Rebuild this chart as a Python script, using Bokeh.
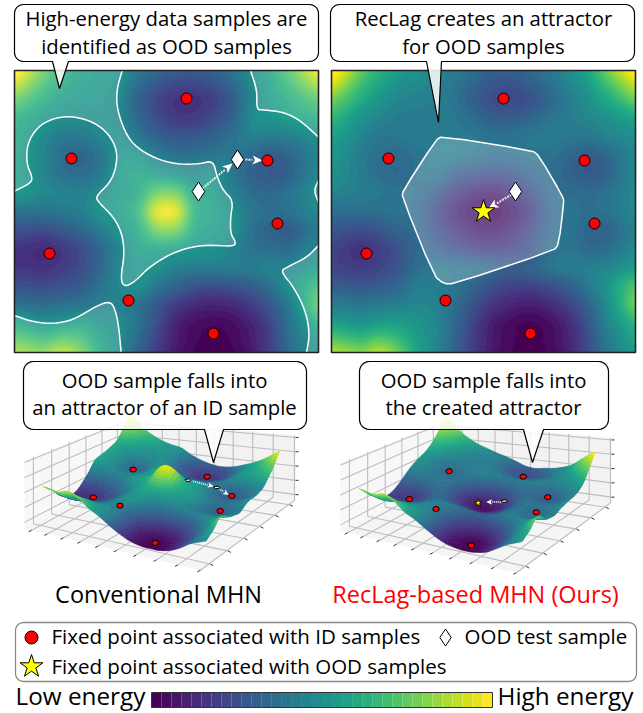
import numpy as np
from bokeh.plotting import figure
from bokeh.models import Range1d, LinearColorMapper, ColumnDataSource
from bokeh.palettes import Viridis256
from bokeh.core.properties import value
from bokeh.embed import file_html
from bokeh.resources import INLINE

# ---------- data ----------
energy_conventional = [
 [.88,.72,.62,.56,.53,.50,.38,.30,.25,.24,.28,.36,.48,.58,.70,.84],
 [.72,.62,.56,.53,.52,.47,.32,.22,.16,.15,.20,.30,.46,.55,.62,.70],
 [.60,.54,.50,.48,.50,.46,.34,.24,.18,.18,.24,.33,.47,.52,.56,.60],
 [.56,.48,.42,.42,.46,.50,.40,.32,.28,.28,.32,.38,.44,.42,.44,.48],
 [.54,.46,.36,.33,.40,.52,.52,.43,.38,.38,.40,.40,.34,.30,.33,.42],
 [.54,.46,.38,.36,.42,.55,.58,.56,.52,.48,.50,.40,.32,.28,.32,.42],
 [.52,.47,.45,.44,.48,.54,.60,.76,.76,.58,.55,.44,.36,.34,.38,.46],
 [.38,.38,.40,.43,.52,.56,.66,.94,.94,.64,.57,.50,.40,.36,.38,.44],
 [.25,.24,.28,.34,.42,.52,.60,.78,.78,.60,.55,.50,.38,.32,.30,.38],
 [.15,.13,.17,.24,.34,.46,.56,.58,.56,.52,.50,.45,.38,.36,.36,.44],
 [.16,.15,.18,.24,.34,.47,.52,.50,.44,.42,.42,.42,.42,.44,.46,.52],
 [.25,.24,.26,.30,.38,.46,.50,.40,.32,.26,.24,.26,.30,.38,.50,.62],
 [.38,.36,.38,.40,.44,.44,.38,.28,.18,.12,.10,.12,.18,.28,.42,.64],
 [.58,.52,.55,.58,.52,.48,.38,.24,.10,.04,.02,.04,.10,.22,.38,.54],
 [.76,.72,.78,.72,.58,.48,.34,.20,.08,.02,.00,.02,.08,.20,.36,.48],
]
energy_reclag = [
 [.90,.72,.60,.52,.48,.44,.40,.34,.28,.27,.32,.38,.46,.56,.72,.88],
 [.74,.62,.52,.46,.44,.42,.38,.30,.24,.22,.26,.34,.42,.50,.60,.72],
 [.62,.52,.46,.42,.42,.42,.40,.35,.30,.30,.33,.38,.42,.46,.50,.56],
 [.54,.46,.40,.40,.42,.42,.42,.40,.38,.38,.40,.42,.40,.40,.44,.48],
 [.50,.42,.37,.35,.38,.42,.42,.38,.36,.36,.38,.38,.34,.30,.34,.42],
 [.48,.42,.36,.34,.37,.38,.30,.26,.24,.26,.32,.36,.32,.28,.32,.42],
 [.44,.42,.40,.38,.36,.28,.18,.12,.10,.15,.24,.34,.36,.35,.38,.44],
 [.36,.36,.36,.38,.34,.22,.12,.05,.03,.08,.18,.32,.38,.36,.38,.44],
 [.26,.24,.27,.32,.34,.25,.16,.10,.08,.13,.22,.33,.38,.33,.32,.40],
 [.19,.15,.19,.26,.34,.30,.24,.20,.18,.20,.26,.36,.39,.35,.36,.44],
 [.20,.18,.21,.27,.36,.40,.38,.36,.32,.30,.32,.38,.42,.43,.46,.52],
 [.30,.28,.30,.34,.42,.42,.38,.32,.24,.20,.20,.24,.30,.40,.52,.66],
 [.42,.40,.42,.44,.46,.44,.36,.25,.16,.10,.08,.12,.20,.32,.48,.68],
 [.56,.52,.56,.56,.52,.46,.34,.20,.08,.03,.01,.04,.12,.26,.44,.58],
 [.76,.72,.78,.70,.56,.46,.32,.18,.07,.02,.00,.03,.10,.24,.40,.52],
]
# fixed points, in the pixel frame of the left map, and where they appear on the left 3-D surface
fixed_x = [71, 186, 267, 277, 49, 128, 213]
fixed_y = [158, 98, 160, 223, 253, 300, 333]
fixed_e1 = [.33, .16, .27, .30, .13, .44, .01]
fixed_e2 = [.35, .22, .30, .33, .15, .42, .01]
surface_x = [134, 208, 234, 216, 88, 114, 155]
surface_y = [468, 471, 495, 513, 495, 503, 543]
ood_x, ood_y = 198, 191
moved_x, moved_y = 237, 159
star_x, star_y = 166, 211
ood_e1, moved_e1 = .62, .38
ood_e2, star_e2 = .18, .16

callout_texts = [
    ("High-energy data samples are", 166, 17), ("identified as OOD samples", 166, 45),
    ("RecLag creates an attractor", 483, 17), ("for OOD samples", 483, 45),
    ("OOD sample falls into", 164, 379), ("an attractor of an ID sample", 164, 406),
    ("OOD sample falls into", 483, 379), ("the created attractor", 483, 406),
]

# curves of the left map (3x-zoom picture units)
curve_main = [(42,572),(90,548),(96,530),(78,490),(80,430),(110,380),(160,352),(220,347),(280,365),(325,400),(350,450),(347,500),(330,545),(285,588),(295,606),(340,650),(365,700),(372,760),(360,835),(372,860),(405,842),(440,805),(500,765),(560,742),(620,733),(700,738),(706,725),(690,700),(690,650),(698,600),(668,570),(650,530),(638,480),(600,490),(540,492),(480,480),(420,450),(380,410),(350,330),(348,270),(365,210)]
curve_tr = [(750,210),(770,270),(768,328),(790,328),(850,335),(900,360),(954,410)]
curve_r = [(954,540),(940,570),(954,605)]
curve_br = [(954,735),(920,770),(860,800),(840,812),(880,860),(915,930),(928,1000),(918,1057)]
curve_bl = [(42,945),(100,965),(160,970),(220,958),(290,915),(330,902),(345,930),(355,980),(362,1057)]
hexagon = [(365,407),(635,450),(655,465),(728,590),(730,605),(715,730),(700,750),(400,850),(370,850),(340,825),(245,590),(248,570),(345,420)]

# ---------- canvas ----------
p = figure(width=643, height=713, output_backend="svg", toolbar_location=None,
           x_range=Range1d(0, 643), y_range=Range1d(713, 0), min_border=0)
p.axis.visible = False
p.grid.visible = False
p.outline_line_color = None
p.background_fill_color = "white"
mapper = LinearColorMapper(palette=Viridis256, low=0, high=1)

PX0, PW, PY0, PH = 14, 304, 70, 282
OFF2 = 317

def cubic(a, t, axis):
    # display smoothing of a read grid (like imshow's bicubic)
    a = np.moveaxis(a, axis, 0)
    a = np.concatenate([3*a[:1]-2*a[1:2], 2*a[:1]-a[1:2], a, 2*a[-1:]-a[-2:-1], 3*a[-1:]-2*a[-2:-1]])
    n = a.shape[0] - 4
    i = np.clip(np.floor(t).astype(int), -1, n-1)
    f = t - i
    shape = (-1,) + (1,)*(a.ndim-1)
    f = f.reshape(shape)
    p0, p1, p2, p3 = a[i+1], a[i+2], a[i+3], a[i+4]
    r = .5*(2*p1 + (p2-p0)*f + (2*p0-5*p1+4*p2-p3)*f**2 + (3*p1-p0-3*p2+p3)*f**3)
    return np.moveaxis(r, 0, axis)

def smooth(grid, nx, ny):
    g = np.array(grid, dtype=float)
    ty = np.linspace(0, 1, ny)*g.shape[0] - .5
    tx = np.linspace(0, 1, nx)*g.shape[1] - .5
    return np.clip(cubic(cubic(g, ty, 0), tx, 1), 0, 1)

def rounded_curve(c, closed=False, rounds=2):
    # corner cutting so that a hand-read curve is drawn without kinks
    a = np.array(c, dtype=float)
    for _ in range(rounds):
        if closed:
            b = np.roll(a, -1, axis=0)
            a = np.column_stack([.75*a + .25*b, .25*a + .75*b]).reshape(-1, 2)
        else:
            l, r = a[:-1], a[1:]
            mid = np.column_stack([.75*l + .25*r, .25*l + .75*r]).reshape(-1, 2)
            a = np.vstack([a[:1], mid, a[-1:]])
    return a

# ---------- heat maps ----------
for grid, x0 in ((energy_conventional, PX0), (energy_reclag, PX0 + OFF2)):
    fine = np.round(smooth(grid, PW, PH)*34)/34
    p.image(image=[fine], x=x0, y=PY0, dw=PW, dh=PH, color_mapper=mapper)

def zp(a, dx=0.0):
    a = np.array(a, dtype=float) / 3
    return list(a[:, 0] + dx), list(a[:, 1])

main_fine = rounded_curve(curve_main)
x, y = zp(np.vstack([main_fine, [(42, 210)]]))
p.patch(x, y, fill_color="white", fill_alpha=.16, line_color=None)
for c, close in ((curve_tr, (954, 210)), (curve_br, (954, 1057)), (curve_bl, (42, 1057)), (curve_r, (954, 570))):
    x, y = zp(np.vstack([rounded_curve(c), [close]]))
    p.patch(x, y, fill_color="white", fill_alpha=.16, line_color=None)
for c in (curve_main, curve_tr, curve_r, curve_br, curve_bl):
    x, y = zp(rounded_curve(c))
    p.line(x, y, line_color="white", line_width=1.5, line_join="round")
hx = rounded_curve(hexagon, closed=True, rounds=1)
x, y = zp(hx, 320)
p.patch(x, y, fill_color="white", fill_alpha=.22, line_color="white", line_width=1.5, line_join="round")

for x0 in (PX0, PX0 + OFF2):
    p.quad(left=x0, right=x0 + PW, top=PY0, bottom=PY0 + PH, fill_color=None, line_color="#222222", line_width=1.6)

# ---------- 3-D boxes ----------
box_B, box_R, box_L, box_F = (123, 475), (295, 500), (24, 528), (201, 570)
wall_h = {"B": 55, "R": 65, "L": 68, "F": 78}
Z_SCALE = 42

def homography(pts):
    src = [(0, 0), (1, 0), (0, 1), (1, 1)]
    A, b = [], []
    for (u, v), (X, Y) in zip(src, pts):
        A.append([u, v, 1, 0, 0, 0, -u * X, -v * X]); b.append(X)
        A.append([0, 0, 0, u, v, 1, -u * Y, -v * Y]); b.append(Y)
    s = np.linalg.solve(np.array(A, float), np.array(b, float))
    return np.append(s, 1).reshape(3, 3)

HM = homography([box_B, box_R, box_L, box_F])

def base(u, v):
    w = HM @ np.array([u, v, 1.0])
    return w[0] / w[2], w[1] / w[2]

def wallh(u, v):
    return ((1-u)*(1-v)*wall_h["B"] + u*(1-v)*wall_h["R"] + (1-u)*v*wall_h["L"] + u*v*wall_h["F"])

def uv_of(px, py):
    return (px-PX0)/PW, (py-PY0)/PH

# camera fitted to where the fixed points and the surface corners appear in the picture
calib = [(*uv_of(a, b), e, X, Y) for a, b, e, X, Y in zip(fixed_x, fixed_y, fixed_e1, surface_x, surface_y)]
calib += [(0, 0, .95, 130, 419), (1, 0, .92, 279, 457), (0, 1, .78, 45, 492), (.655, 1, .0, 157, 552), (1, 1, .48, 203, 537)]
A, b = [], []
for u, v, z, X, Y in calib:
    Y0 = Y + Z_SCALE*z
    A.append([u, v, 1, 0, 0, 0, -u*X, -v*X]); b.append(X)
    A.append([0, 0, 0, u, v, 1, -u*Y0, -v*Y0]); b.append(Y0)
SURF = np.append(np.linalg.lstsq(np.array(A, float), np.array(b, float), rcond=None)[0], 1).reshape(3, 3)

def proj(u, v, z, dx=0, dy=0):
    w = SURF @ np.array([u, v, 1.0])
    return w[0]/w[2] + dx, w[1]/w[2] + dy - Z_SCALE*z

def draw_box(dx, dy):
    def bz(u, v, t):
        X, Y = base(u, v)
        return X + dx, Y + dy - wallh(u, v)*t
    lw = [bz(0,1,0), bz(0,0,0), bz(0,0,1), bz(0,1,1)]
    rw = [bz(0,0,0), bz(1,0,0), bz(1,0,1), bz(0,0,1)]
    fl = [bz(0,0,0), bz(1,0,0), bz(1,1,0), bz(0,1,0)]
    for poly, col in ((lw, "#f8f8f8"), (rw, "#f2f2f2"), (fl, "#f5f5f5")):
        p.patch([q[0] for q in poly], [q[1] for q in poly], fill_color=col, line_color=None)
    xs, ys = [], []
    def seg(a, b):
        xs.append([a[0], b[0]]); ys.append([a[1], b[1]])
    for t in (.09, .31, .53, .75, .97):
        seg(bz(0,1,t), bz(0,0,t)); seg(bz(0,0,t), bz(1,0,t))
    for a in np.arange(.05, 1, .105):
        seg(bz(a,0,0), bz(a,0,1)); seg(bz(a,0,0), bz(a,1,0))
    for b in np.arange(.07, 1, .17):
        seg(bz(0,b,0), bz(0,b,1)); seg(bz(0,b,0), bz(1,b,0))
    p.multi_line(xs, ys, line_color="#bdbdbd", line_width=1.1)
    xs, ys = [], []
    for a in np.arange(.05, 1, .105):
        q = bz(a,1,0); seg(q, (q[0]-3, q[1]+1.5))
    for b in np.arange(.07, 1, .17):
        q = bz(1,b,0); seg(q, (q[0]+3, q[1]+1.5))
    for t in (.09, .31, .53, .75, .97):
        q = bz(1,0,t); seg(q, (q[0]+3, q[1]))
    p.multi_line(xs, ys, line_color="#333333", line_width=1)

def draw_surface(grid, dx, dy):
    nx, ny = 61, 57
    g = smooth(grid, nx, ny)
    cells = sorted(((i, j) for i in range(nx-1) for j in range(ny-1)), key=lambda c: c[0]/(nx-1) + c[1]/(ny-1))
    xs, ys, vals = [], [], []
    for i, j in cells:
        corners = [(i, j), (i+1, j), (i+1, j+1), (i, j+1)]
        pts = [proj(a/(nx-1), b/(ny-1), g[b, a], dx, dy) for a, b in corners]
        xs.append([q[0] for q in pts]); ys.append([q[1] for q in pts])
        vals.append(float(np.mean([g[b, a] for a, b in corners])))
    src = ColumnDataSource(dict(xs=xs, ys=ys, v=vals))
    tr = {"field": "v", "transform": mapper}
    p.patches("xs", "ys", source=src, fill_color=tr, line_color=tr, line_width=.6)

def arrow(x0, y0, x1, y1, size=9, dash="2 1"):
    d = np.array([x1-x0, y1-y0], float); d /= np.hypot(*d)
    n = np.array([-d[1], d[0]])
    b = np.array([x1, y1]) - d*size
    p.line([x0, b[0]], [y0, b[1]], line_color="white", line_width=2, line_dash=dash, line_alpha=.85)
    tri = [(x1, y1), tuple(b + n*size*.45), tuple(b + d*size*.25), tuple(b - n*size*.45)]
    p.patch([t[0] for t in tri], [t[1] for t in tri], fill_color="white", line_color=None)

def flat_diamond(px, py, z, dx, dy):
    u, v = uv_of(px, py)
    d = .02
    pts = [proj(u, v-d, z, dx, dy), proj(u+d, v, z, dx, dy), proj(u, v+d, z, dx, dy), proj(u-d, v, z, dx, dy)]
    p.patch([q[0] for q in pts], [q[1] for q in pts], fill_color="white", line_color="black", line_width=1)

D2X, D2Y = 316, 2.5
draw_box(0, 0); draw_box(D2X, D2Y)
draw_surface(energy_conventional, 0, 0)
draw_surface(energy_reclag, D2X, D2Y)

for energies, dx, dy in ((fixed_e1, 0, 0), (fixed_e2, D2X, D2Y)):
    pts = [proj(*uv_of(a, b), e, dx, dy) for a, b, e in zip(fixed_x, fixed_y, energies)]
    p.ellipse([q[0] for q in pts], [q[1] for q in pts], width=6.5, height=5, fill_color="red", line_color="black", line_width=1)

a = proj(*uv_of(ood_x, ood_y), ood_e1); b = proj(*uv_of(moved_x, moved_y), moved_e1)
c = proj(*uv_of(fixed_x[2], fixed_y[2]), fixed_e1[2])
arrow(a[0]+3, a[1]+.5, b[0]-3, b[1]-1, 6, "1 1"); arrow(b[0]+2, b[1]+1, c[0]-3, c[1]-1, 6, "1 1")
flat_diamond(ood_x, ood_y, ood_e1, 0, 0); flat_diamond(moved_x, moved_y, moved_e1, 0, 0)
a = proj(*uv_of(ood_x, ood_y), ood_e2, D2X, D2Y); b = proj(*uv_of(star_x, star_y), star_e2, D2X-4, D2Y)
arrow(a[0]-3, a[1]+1, b[0]+8, b[1]-1, 6, "1 1")
flat_diamond(ood_x, ood_y, ood_e2, D2X, D2Y)
p.scatter([b[0]], [b[1]], marker="star", size=8, fill_color="yellow", line_color="black", line_width=.8)

arrow(ood_x+4, ood_y-3, moved_x-5, moved_y+4, 10)
arrow(moved_x+8, moved_y, fixed_x[2]-5, fixed_y[2], 10)
arrow(ood_x+OFF2-4, ood_y+3, star_x+OFF2+5, star_y-3, 10)
p.scatter(fixed_x, fixed_y, marker="circle", size=11, fill_color="red", line_color="black", line_width=1)
p.scatter([v+OFF2 for v in fixed_x], fixed_y, marker="circle", size=11, fill_color="red", line_color="black", line_width=1)
p.scatter([ood_x, moved_x, ood_x+OFF2], [ood_y, moved_y, ood_y], marker="diamond", size=19, fill_color="white", line_color="black", line_width=1)
p.scatter([star_x+OFF2], [star_y], marker="star", size=24, fill_color="yellow", line_color="black", line_width=1)

def rounded(x0, y0, x1, y1, r, tail=None):
    pts = []
    def arc(cx, cy, a0):
        for t in np.radians(np.linspace(a0, a0+90, 7)):
            pts.append((cx + r*np.cos(t), cy + r*np.sin(t)))
    arc(x1-r, y0+r, -90); arc(x1-r, y1-r, 0)
    if tail:
        pts += [(tail[1], y1), (tail[2], tail[3]), (tail[0], y1)]
    arc(x0+r, y1-r, 90); arc(x0+r, y0+r, 180)
    return [q[0] for q in pts], [q[1] for q in pts]

for box in ((14, 4, 318, 61, 9, (52, 68, 59, 88)),
            (330, 4, 634, 61, 9, (426, 441, 438, 122)),
            (23, 361, 306, 429, 10, (204, 223, 213, 462)),
            (359, 361, 608, 429, 10, (523, 543, 532, 462))):
    x, y = rounded(*box)
    p.patch(x, y, fill_color="white", fill_alpha=.85, line_color="black", line_width=1.2)

def txt(rows, size, color="black", align="center"):
    p.text([r[1] for r in rows], [r[2] for r in rows], text=[r[0] for r in rows],
           text_font=value("Open Sans"), text_font_size=value(size), text_color=color,
           text_align=align, text_baseline="middle")

txt(callout_texts, "20.3px")
txt([("Conventional MHN", 158, 593)], "23.5px")
txt([("RecLag-based MHN (Ours)", 475, 593)], "23.5px", color="red")

x, y = rounded(15, 622, 636, 681, 8)
p.patch(x, y, fill_color="white", line_color="#8a8a8a", line_width=1.3)
p.scatter([31], [637], marker="circle", size=13, fill_color="red", line_color="black", line_width=1)
p.scatter([445], [637], marker="diamond", size=17, fill_color="white", line_color="black", line_width=1)
p.scatter([31], [666], marker="star", size=24, fill_color="yellow", line_color="black", line_width=1)
txt([("Fixed point associated with ID samples", 51, 635), ("OOD test sample", 464, 635),
     ("Fixed point associated with OOD samples", 51, 665)], "20.5px", align="left")

n = 34
edges = np.linspace(151, 492, n+1)
p.quad(left=edges[:-1], right=edges[1:], top=692, bottom=707,
       fill_color=[Viridis256[int(i*255/(n-1))] for i in range(n)], line_color=None)
p.quad(left=151, right=492, top=692, bottom=707, fill_color=None, line_color="#333333", line_width=1)
txt([("Low energy", 15, 695), ("High energy", 497, 695)], "24.3px", align="left")

open("out.html", "w").write(file_html(p, INLINE))
